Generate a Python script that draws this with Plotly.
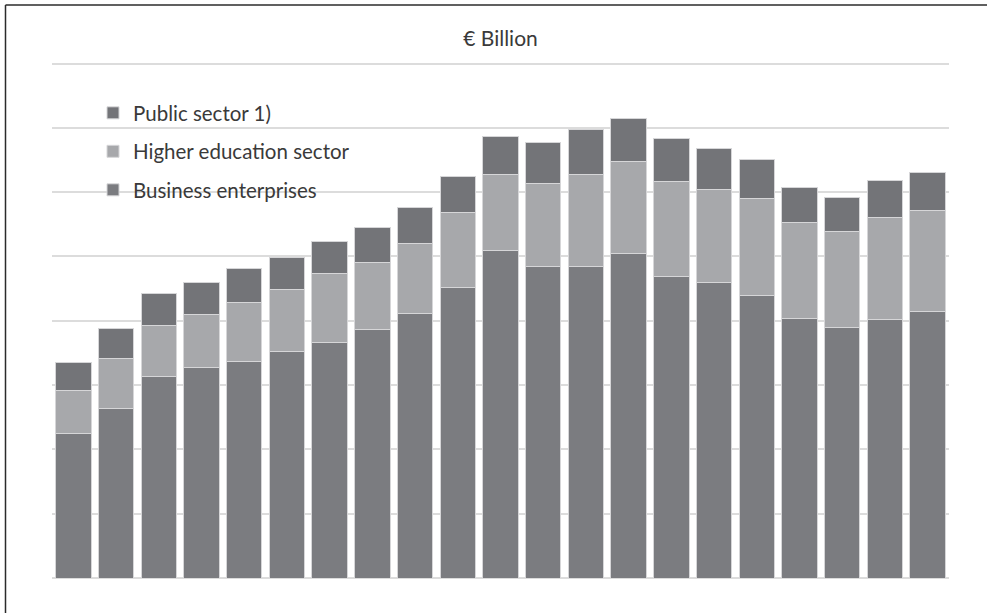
import plotly.graph_objects as go

# R&D expenditure by sector, € billion, 1998-2018
years = [str(y) for y in range(1998, 2019)]
business = [2.25, 2.64, 3.13, 3.27, 3.37, 3.52, 3.67, 3.87, 4.11, 4.51, 5.09,
            4.84, 4.85, 5.04, 4.69, 4.59, 4.40, 4.04, 3.89, 4.02, 4.15]
higher_ed = [0.66, 0.77, 0.79, 0.83, 0.92, 0.96, 1.06, 1.04, 1.09, 1.17, 1.19,
             1.29, 1.42, 1.43, 1.48, 1.45, 1.50, 1.49, 1.50, 1.58, 1.57]
public = [0.44, 0.47, 0.50, 0.50, 0.53, 0.51, 0.51, 0.54, 0.56, 0.56, 0.58,
          0.65, 0.70, 0.68, 0.66, 0.64, 0.61, 0.54, 0.53, 0.58, 0.59]

W, H = 987, 613
ML, MR, MT, MB = 52, 38, 61, 35
PW, PH = W - ML - MR, H - MT - MB
Y_TOP = 8.04  # a little headroom so the gridline at 8 is drawn
FONT = "Lato"
TXT = "#3a3a3a"

series = [
    ("Business enterprises", business, "#7b7c80", "legend3", 190),
    ("Higher education sector", higher_ed, "#a7a8ab", "legend2", 151.5),
    ("Public sector 1)", public, "#737478", "legend", 113),
]

fig = go.Figure()
for name, vals, color, leg, _ in series:
    fig.add_trace(go.Bar(
        x=years, y=vals, name=name, legend=leg,
        marker=dict(color=color, line=dict(color="#d6d6d8", width=1)),
        hoverinfo="skip",
    ))

# one legend box per series so the entries can sit on their own rows
legend_kw = {}
for name, vals, color, leg, ypix in series:
    legend_kw[leg] = dict(
        xref="paper", yref="paper",
        x=(93 - ML) / PW, y=(H - MB - ypix) / PH,
        xanchor="left", yanchor="middle",
        bgcolor="rgba(0,0,0,0)", borderwidth=0,
        font=dict(family=FONT, size=20.5, color=TXT),
    )

fig.update_layout(
    width=W, height=H,
    margin=dict(l=ML, r=MR, t=MT, b=MB),
    paper_bgcolor="white", plot_bgcolor="white",
    barmode="stack", bargap=0.17,
    showlegend=True,
    title=dict(text="€ Billion", x=(ML + PW / 2) / W, xanchor="center",
               y=1 - 39 / H, yanchor="middle",
               font=dict(family=FONT, size=21, color=TXT)),
    xaxis=dict(showticklabels=False, showgrid=False, zeroline=False,
               showline=False, ticks=""),
    yaxis=dict(range=[0, Y_TOP], dtick=1, showticklabels=False, ticks="",
               showgrid=True, gridcolor="#dcdcdc", gridwidth=2,
               zeroline=True, zerolinecolor="#dcdcdc", zerolinewidth=2,
               showline=False),
    **legend_kw,
)

# frame lines along the top and left edges of the figure
x_left = (5.5 - ML) / PW
y_top = 1 + (MT - 5) / PH
fig.add_shape(type="line", xref="paper", yref="paper",
              x0=x_left, x1=1 + (W - ML) / PW, y0=y_top, y1=y_top,
              line=dict(color="#2b2b2b", width=1.5))
fig.add_shape(type="line", xref="paper", yref="paper",
              x0=x_left, x1=x_left, y0=y_top, y1=-(MB + 5) / PH,
              line=dict(color="#2b2b2b", width=1.5))

fig.write_html("out.html")
